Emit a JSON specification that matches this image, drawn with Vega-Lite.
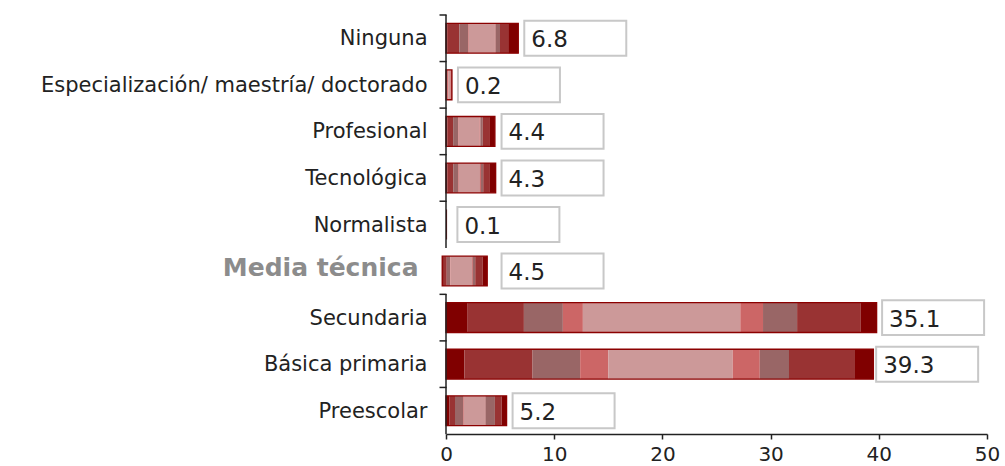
{
  "$schema": "https://vega.github.io/schema/vega-lite/v6.json",
  "width": 541,
  "height": 419,
  "autosize": {"type": "none"},
  "padding": {"left": 446, "top": 15, "right": 18, "bottom": 32},
  "background": "white",
  "config": {
    "view": {"stroke": null},
    "axisX": {
      "grid": false,
      "domainColor": "#222222",
      "domainWidth": 1.5,
      "tickColor": "#222222",
      "tickWidth": 1.5,
      "tickSize": 5,
      "labelFont": "DejaVu Sans",
      "labelFontSize": 20,
      "labelColor": "#222222",
      "labelPadding": 5,
      "labelFlush": false
    }
  },
  "datasets": {
    "segs": [
      {"cat": "Ninguna", "tone": "dark", "x0": 0, "x1": 0.15},
      {"cat": "Ninguna", "tone": "med", "x0": 0.15, "x1": 1.23},
      {"cat": "Ninguna", "tone": "mauve", "x0": 1.23, "x1": 2.06},
      {"cat": "Ninguna", "tone": "salmon", "x0": 2.06, "x1": 2.12},
      {"cat": "Ninguna", "tone": "pink", "x0": 2.12, "x1": 4.52},
      {"cat": "Ninguna", "tone": "salmon", "x0": 4.52, "x1": 4.58},
      {"cat": "Ninguna", "tone": "mauve", "x0": 4.58, "x1": 4.99},
      {"cat": "Ninguna", "tone": "med", "x0": 4.99, "x1": 5.75},
      {"cat": "Ninguna", "tone": "dark", "x0": 5.75, "x1": 6.68},
      {"cat": "Especialización/ maestría/ doctorado", "tone": "med", "x0": 0, "x1": 0.1},
      {"cat": "Especialización/ maestría/ doctorado", "tone": "salmon", "x0": 0.1, "x1": 0.2},
      {"cat": "Especialización/ maestría/ doctorado", "tone": "pink", "x0": 0.2, "x1": 0.4},
      {"cat": "Especialización/ maestría/ doctorado", "tone": "salmon", "x0": 0.4, "x1": 0.48},
      {"cat": "Especialización/ maestría/ doctorado", "tone": "med", "x0": 0.48, "x1": 0.55},
      {"cat": "Profesional", "tone": "dark", "x0": 0, "x1": 0.12},
      {"cat": "Profesional", "tone": "med", "x0": 0.12, "x1": 0.66},
      {"cat": "Profesional", "tone": "mauve", "x0": 0.66, "x1": 1.12},
      {"cat": "Profesional", "tone": "salmon", "x0": 1.12, "x1": 1.18},
      {"cat": "Profesional", "tone": "pink", "x0": 1.18, "x1": 3.1},
      {"cat": "Profesional", "tone": "salmon", "x0": 3.1, "x1": 3.18},
      {"cat": "Profesional", "tone": "mauve", "x0": 3.18, "x1": 3.4},
      {"cat": "Profesional", "tone": "med", "x0": 3.4, "x1": 4.0},
      {"cat": "Profesional", "tone": "dark", "x0": 4.0, "x1": 4.52},
      {"cat": "Tecnológica", "tone": "dark", "x0": 0, "x1": 0.12},
      {"cat": "Tecnológica", "tone": "med", "x0": 0.12, "x1": 0.67},
      {"cat": "Tecnológica", "tone": "mauve", "x0": 0.67, "x1": 1.14},
      {"cat": "Tecnológica", "tone": "salmon", "x0": 1.14, "x1": 1.2},
      {"cat": "Tecnológica", "tone": "pink", "x0": 1.2, "x1": 3.14},
      {"cat": "Tecnológica", "tone": "salmon", "x0": 3.14, "x1": 3.23},
      {"cat": "Tecnológica", "tone": "mauve", "x0": 3.23, "x1": 3.44},
      {"cat": "Tecnológica", "tone": "med", "x0": 3.44, "x1": 4.06},
      {"cat": "Tecnológica", "tone": "dark", "x0": 4.06, "x1": 4.59},
      {"cat": "Normalista", "tone": "dark", "x0": 0, "x1": 0.1},
      {"cat": "Media técnica", "tone": "dark", "x0": -0.35, "x1": -0.2},
      {"cat": "Media técnica", "tone": "med", "x0": -0.2, "x1": 0.07},
      {"cat": "Media técnica", "tone": "mauve", "x0": 0.07, "x1": 0.37},
      {"cat": "Media técnica", "tone": "salmon", "x0": 0.37, "x1": 0.42},
      {"cat": "Media técnica", "tone": "pink", "x0": 0.42, "x1": 2.4},
      {"cat": "Media técnica", "tone": "salmon", "x0": 2.4, "x1": 2.48},
      {"cat": "Media técnica", "tone": "mauve", "x0": 2.48, "x1": 2.7},
      {"cat": "Media técnica", "tone": "med", "x0": 2.7, "x1": 3.4},
      {"cat": "Media técnica", "tone": "dark", "x0": 3.4, "x1": 3.81},
      {"cat": "Secundaria", "tone": "dark", "x0": 0, "x1": 1.95},
      {"cat": "Secundaria", "tone": "med", "x0": 1.95, "x1": 7.2},
      {"cat": "Secundaria", "tone": "mauve", "x0": 7.2, "x1": 10.8},
      {"cat": "Secundaria", "tone": "salmon", "x0": 10.8, "x1": 12.65},
      {"cat": "Secundaria", "tone": "pink", "x0": 12.65, "x1": 27.2},
      {"cat": "Secundaria", "tone": "salmon", "x0": 27.2, "x1": 29.3},
      {"cat": "Secundaria", "tone": "mauve", "x0": 29.3, "x1": 32.45},
      {"cat": "Secundaria", "tone": "med", "x0": 32.45, "x1": 38.3},
      {"cat": "Secundaria", "tone": "dark", "x0": 38.3, "x1": 39.8},
      {"cat": "Básica primaria", "tone": "dark", "x0": 0, "x1": 1.7},
      {"cat": "Básica primaria", "tone": "med", "x0": 1.7, "x1": 8.0},
      {"cat": "Básica primaria", "tone": "mauve", "x0": 8.0, "x1": 12.4},
      {"cat": "Básica primaria", "tone": "salmon", "x0": 12.4, "x1": 15.0},
      {"cat": "Básica primaria", "tone": "pink", "x0": 15.0, "x1": 26.5},
      {"cat": "Básica primaria", "tone": "salmon", "x0": 26.5, "x1": 29.0},
      {"cat": "Básica primaria", "tone": "mauve", "x0": 29.0, "x1": 31.7},
      {"cat": "Básica primaria", "tone": "med", "x0": 31.7, "x1": 37.8},
      {"cat": "Básica primaria", "tone": "dark", "x0": 37.8, "x1": 39.5},
      {"cat": "Preescolar", "tone": "dark", "x0": 0, "x1": 0.3},
      {"cat": "Preescolar", "tone": "med", "x0": 0.3, "x1": 0.83},
      {"cat": "Preescolar", "tone": "mauve", "x0": 0.83, "x1": 1.6},
      {"cat": "Preescolar", "tone": "salmon", "x0": 1.6, "x1": 1.66},
      {"cat": "Preescolar", "tone": "pink", "x0": 1.66, "x1": 3.6},
      {"cat": "Preescolar", "tone": "salmon", "x0": 3.6, "x1": 3.65},
      {"cat": "Preescolar", "tone": "mauve", "x0": 3.65, "x1": 4.52},
      {"cat": "Preescolar", "tone": "med", "x0": 4.52, "x1": 5.14},
      {"cat": "Preescolar", "tone": "dark", "x0": 5.14, "x1": 5.6}
    ],
    "summ": [
      {"cat": "Ninguna", "start": 0, "end": 6.68, "labelAt": 6.68, "label": "6.8", "outline": true},
      {"cat": "Especialización/ maestría/ doctorado", "start": 0, "end": 0.55, "labelAt": 0.55, "label": "0.2", "outline": true},
      {"cat": "Profesional", "start": 0, "end": 4.52, "labelAt": 4.58, "label": "4.4", "outline": true},
      {"cat": "Tecnológica", "start": 0, "end": 4.59, "labelAt": 4.58, "label": "4.3", "outline": true},
      {"cat": "Normalista", "start": 0, "end": 0.1, "labelAt": 0.5, "label": "0.1", "outline": false},
      {"cat": "Media técnica", "start": -0.35, "end": 3.81, "labelAt": 4.58, "label": "4.5", "outline": true},
      {"cat": "Secundaria", "start": 0, "end": 39.8, "labelAt": 39.75, "label": "35.1", "outline": true},
      {"cat": "Básica primaria", "start": 0, "end": 39.5, "labelAt": 39.2, "label": "39.3", "outline": true},
      {"cat": "Preescolar", "start": 0, "end": 5.6, "labelAt": 5.6, "label": "5.2", "outline": true}
    ]
  },
  "encoding": {
    "y": {
      "field": "cat",
      "type": "nominal",
      "sort": ["Ninguna", "Especialización/ maestría/ doctorado", "Profesional", "Tecnológica", "Normalista", "Media técnica", "Secundaria", "Básica primaria", "Preescolar"],
      "scale": {"paddingInner": 0, "paddingOuter": 0},
      "axis": {
        "title": null,
        "domain": false,
        "ticks": false,
        "labelOffset": {"condition": {"test": "datum.value === 'Media técnica'", "value": -3}, "value": 1},
        "labelFont": "DejaVu Sans",
        "labelFontSize": {"condition": {"test": "datum.value === 'Media técnica'", "value": 25}, "value": 21},
        "labelFontWeight": {"condition": {"test": "datum.value === 'Media técnica'", "value": "bold"}, "value": "normal"},
        "labelColor": {"condition": {"test": "datum.value === 'Media técnica'", "value": "#8C8C8C"}, "value": "#222222"},
        "labelPadding": {"condition": {"test": "datum.value === 'Media técnica'", "value": 28}, "value": 19},
        "labelLimit": 500
      }
    }
  },
  "layer": [
    {
      "data": {"name": "segs"},
      "mark": {"type": "bar", "height": {"band": 0.64}},
      "encoding": {
        "x": {
          "field": "x0",
          "type": "quantitative",
          "scale": {"domain": [0, 50], "nice": false, "zero": false},
          "axis": {"title": null, "values": [0, 10, 20, 30, 40, 50], "labelFontSize": 20}
        },
        "x2": {"field": "x1"},
        "color": {
          "field": "tone",
          "type": "nominal",
          "scale": {"domain": ["dark", "med", "mauve", "salmon", "pink"], "range": ["#800000", "#993333", "#996666", "#CC6666", "#CC9999"]},
          "legend": null
        }
      }
    },
    {
      "data": {"name": "summ"},
      "transform": [{"filter": "datum.outline"}],
      "mark": {"type": "bar", "height": {"band": 0.64}, "fillOpacity": 0, "stroke": "#8B0000", "strokeWidth": 1.3},
      "encoding": {
        "x": {"field": "start", "type": "quantitative", "axis": {"title": null, "values": [0, 10, 20, 30, 40, 50], "labelFontSize": 20}},
        "x2": {"field": "end"}
      }
    },
    {
      "data": {"name": "summ"},
      "mark": {"type": "bar", "height": {"band": 0.75}, "fill": "white", "stroke": "#C8C8C8", "strokeWidth": 2, "xOffset": 6, "x2Offset": 108},
      "encoding": {
        "x": {"field": "labelAt", "type": "quantitative", "axis": {"title": null, "values": [0, 10, 20, 30, 40, 50], "labelFontSize": 20}},
        "x2": {"field": "labelAt"}
      }
    },
    {
      "data": {"name": "summ"},
      "mark": {"type": "text", "align": "left", "baseline": "middle", "dx": 13, "dy": 2, "font": "DejaVu Sans", "fontSize": 23, "color": "#222222"},
      "encoding": {
        "x": {"field": "labelAt", "type": "quantitative", "axis": {"title": null, "values": [0, 10, 20, 30, 40, 50], "labelFontSize": 20}},
        "text": {"field": "label"}
      }
    },
    {
      "data": {"name": "summ"},
      "transform": [{"filter": "datum.cat !== 'Media técnica'"}],
      "mark": {"type": "tick", "orient": "vertical", "size": 47, "thickness": 1.5, "color": "#222222", "opacity": 1},
      "encoding": {
        "x": {"datum": 0, "type": "quantitative", "axis": {"title": null, "values": [0, 10, 20, 30, 40, 50], "labelFontSize": 20}}
      }
    },
    {
      "data": {"name": "summ"},
      "transform": [{"filter": "datum.cat !== 'Media técnica'"}],
      "mark": {"type": "tick", "orient": "horizontal", "size": 7, "thickness": 1.5, "color": "#222222", "opacity": 1, "xOffset": -3, "yOffset": -23.28},
      "encoding": {
        "x": {"datum": 0, "type": "quantitative", "axis": {"title": null, "values": [0, 10, 20, 30, 40, 50], "labelFontSize": 20}}
      }
    }
  ]
}
